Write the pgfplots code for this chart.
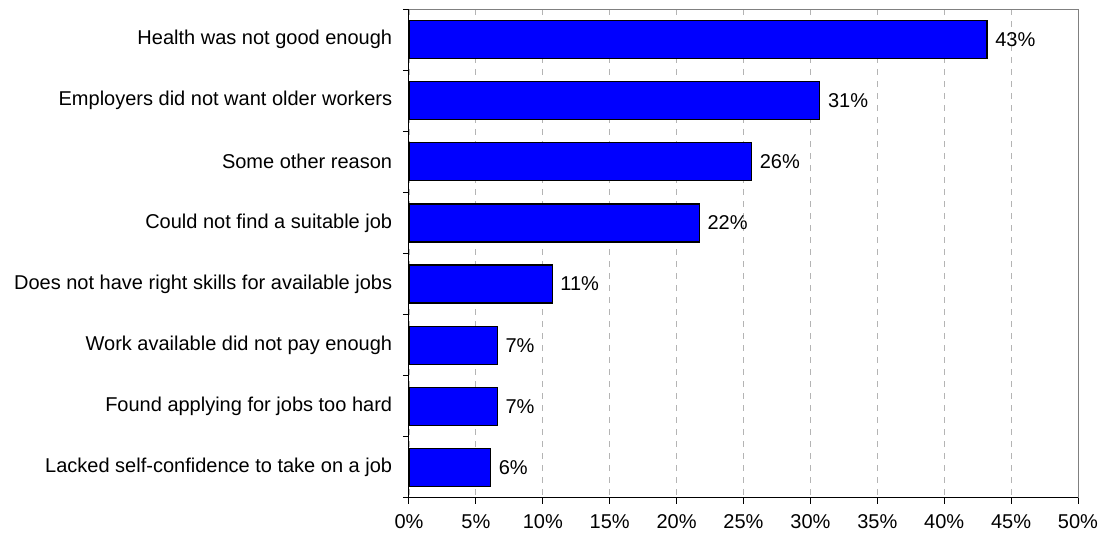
\documentclass[border=0pt]{standalone}
\usepackage{pgfplots}
\pgfplotsset{compat=1.18}
\usepackage{pgfplotstable}
\usepackage{fontspec}
\setmainfont{Liberation Sans}
\definecolor{barblue}{RGB}{0,0,255}
\definecolor{gridgray}{RGB}{180,180,180}
\definecolor{framegray}{RGB}{128,128,128}
\pgfplotstableread{
x y lab
43.2 0 43
30.7 1 31
25.6 2 26
21.7 3 22
10.7 4 11
6.6 5 7
6.6 6 7
6.1 7 6
}\datatable
\begin{document}
\begin{tikzpicture}
\fontsize{20pt}{24pt}\selectfont
\begin{axis}[
  scale only axis,
  width=669pt, height=489pt,
  xmin=0, xmax=50,
  ymin=-0.5, ymax=7.5,
  y dir=reverse,
  xbar,
  bar width=38pt,
  axis x line*=bottom,
  axis y line*=left,
  axis line style={black, line width=1pt},
  xtick={0,5,...,50},
  xticklabels={0\%,5\%,10\%,15\%,20\%,25\%,30\%,35\%,40\%,45\%,50\%},
  ytick={0,...,7},
  yticklabels={Health was not good enough,Employers did not want older workers,Some other reason,Could not find a suitable job,Does not have right skills for available jobs,Work available did not pay enough,Found applying for jobs too hard,Lacked self-confidence to take on a job},
  minor ytick={-0.5,0.5,...,7.5},
  tick align=outside,
  major tick length=6pt,
  minor tick length=6pt,
  y tick style={draw=none},
  minor y tick style={draw=black, line width=1pt},
  x tick style={black, line width=1pt},
  xticklabel style={font=\fontsize{20pt}{24pt}\selectfont, yshift=-4pt},
  yticklabel style={font=\fontsize{20pt}{24pt}\selectfont, xshift=-4pt},
  xmajorgrids,
  x grid style={gridgray, dash pattern=on 6pt off 6pt, line width=0.8pt},
  clip=false,
  nodes near coords={\pgfplotspointmeta\%},
  point meta=explicit symbolic,
  every node near coord/.append style={font=\fontsize{20pt}{24pt}\selectfont, anchor=west, xshift=1pt},
]
\addplot[fill=barblue, draw=black, line width=1.2pt] table[x=x, y=y, meta=lab] {\datatable};
\draw[framegray, line width=1pt] (rel axis cs:0,1) -- (rel axis cs:1,1) -- (rel axis cs:1,0);
\end{axis}
\pgfresetboundingbox
\path ([xshift=-409pt,yshift=-41pt]current axis.south west) rectangle ([xshift=28pt,yshift=9pt]current axis.north east);
\end{tikzpicture}
\end{document}
